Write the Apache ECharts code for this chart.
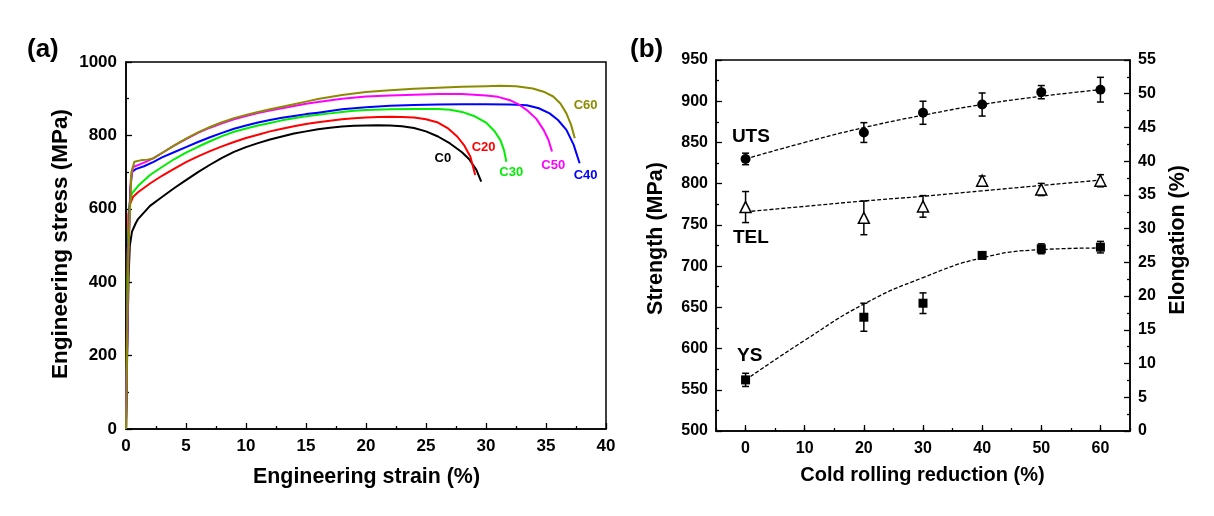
<!DOCTYPE html>
<html><head><meta charset="utf-8">
<script src="https://cdn.jsdelivr.net/npm/echarts@6/dist/echarts.min.js"></script>
<style>html,body{margin:0;padding:0;background:#fff}#c{width:1214px;height:516px}</style>
</head><body><div id="c"></div>
<script>
// ---------- Panel (a): engineering stress-strain curves ----------
const curveNames = ['C0','C20','C30','C40','C50','C60'];
const curveC0 = [[0,0],[0.12,250],[0.22,420],[0.32,500],[0.5,538],[0.8,560],[1,572],[2,608],[3,632],[4,656],[5,678],[6,700],[7,720],[8,739],[9,755],[10,768],[11,779],[12,789],[13,797],[14,805],[15,811],[16,817],[17,821],[18,824],[19,826],[20,827],[21,827.5],[22,827],[23,825],[24,820],[25,811],[26,797],[27,778],[28,754],[28.6,735],[29.2,706],[29.6,674]];
const curveC20 = [[0,0],[0.12,400],[0.2,585],[0.3,610],[0.6,633],[1,645],[2,669],[3,690],[4,709],[5,727],[6,743],[7,757],[8,770],[9,782],[10,793],[11,802],[12,811],[13,818],[14,825],[15,831],[16,836],[17,840],[18,844],[19,847],[20,849],[21,850],[22,850.5],[23,850],[24,848.5],[25,844],[26,835],[26.8,820],[27.6,797],[28.2,772],[28.7,742],[29.1,692]];
const curveC30 = [[0,0],[0.15,480],[0.3,615],[0.5,642],[1,662],[2,692],[3,714],[4,735],[5,753],[6,769],[7,784],[8,798],[9,810],[10,819],[11,827],[12,834],[13,841],[14,847],[15,852],[16,856],[17,860],[18,864],[19,867],[20,869],[22,871],[24,872],[26,872],[27,870],[28,864],[29,853],[30,835],[30.7,812],[31.2,787],[31.5,760],[31.7,728]];
const curveC40 = [[0,0],[0.2,480],[0.35,650],[0.5,700],[0.8,708],[1.5,716],[2.3,728],[3,740],[4,754],[5,768],[6,782],[7,795],[8,807],[9,818],[10,827],[11,835],[12,842],[13,848],[14,853],[15,858],[16,862],[18,871],[20,877],[22,881],[24,883],[26,884],[28,885],[30,885],[32,884.5],[33.4,882],[34.4,874],[35.3,860],[36,842],[36.7,815],[37.3,775],[37.8,724]];
const curveC50 = [[0,0],[0.2,480],[0.4,680],[0.6,714],[1,719],[1.6,727],[2.3,738],[3,752],[4,772],[5,790],[6,807],[7,821],[8,833],[9,844],[10,853],[11,861],[12,868],[13,874],[14,880],[15,886],[16,891],[18,900],[20,906],[22,909],[24,911],[26,912.5],[27,913],[28,912.5],[29,911],[30,909],[31,905],[32,896],[32.8,883],[33.4,869],[34.2,845],[34.8,815],[35.2,788],[35.5,756]];
const curveC60 = [[0,0],[0.2,480],[0.45,700],[0.7,728],[1.2,732],[1.8,734],[2.3,738],[3,752],[4,772],[5,791],[6,808],[7,823],[8,836],[9,847],[10,856],[11,864],[12,871],[13,878],[14,885],[15,892],[16,899],[18,910],[20,918],[22,923],[24,927],[26,930],[28,932.5],[30,934],[31.2,935],[32.5,934],[33.9,928],[34.8,919],[35.6,906],[36.2,887],[36.7,860],[37.1,828],[37.4,792]];
const curveLabelAt = [[26.4,736],[29.8,768],[32.1,700],[38.3,692],[35.6,719],[38.3,883]];
const curveColors = ['#000000','#ff0000','#00ee00','#0000ff','#ff00ff','#8b8b00'];

// ---------- Panel (b): strength / elongation vs cold rolling ----------
const reduction = [0,20,30,40,50,60];
const utsMean = [830,862,886,896,911,914];
const utsErr  = [7,12,14,14,8,15];
const ysMean  = [562,638,655,713,721,723];
const ysErr   = [8,17,12.5,4,6,7];
const telMean = [33.2,31.6,33.3,37.1,35.8,37.1];
const telErr  = [2.3,2.5,1.6,0.7,0.9,0.9];
const fitX   = [0,10,20,30,40,50,60];
const utsFit = [830,850,868,883,896,906,914];
const ysFit  = [562,610,654,686,710,720,722];
const telFit = [32.5,33.3,34.1,34.8,35.6,36.4,37.2];
const reductionTicks = [0,10,20,30,40,50,60];
const propLabels = ['UTS','TEL','YS'];
const propLabelAt = [[0.9,857],[0.9,734],[0.7,591]];

const FF = '"Liberation Sans", Arial, sans-serif';
const pair = (xs, ys) => xs.map((x,i)=>[x,ys[i]]);
const triple = (xs, ys, es) => xs.map((x,i)=>[x,ys[i],es[i]]);

function errBar(params, api){
  const x = api.value(0), y = api.value(1), e = api.value(2);
  const t = api.coord([x, y+e]), b = api.coord([x, y-e]);
  const w = 3.5;
  const st = {stroke:'#000', lineWidth:1.5};
  return {type:'group', children:[
    {type:'line', shape:{x1:t[0],y1:t[1],x2:b[0],y2:b[1]}, style:st},
    {type:'line', shape:{x1:t[0]-w,y1:t[1],x2:t[0]+w,y2:t[1]}, style:st},
    {type:'line', shape:{x1:b[0]-w,y1:b[1],x2:b[0]+w,y2:b[1]}, style:st}
  ]};
}

const axisTxt = {color:'#000', fontWeight:'bold', fontFamily:FF};
const lineSt = {show:true, onZero:false, lineStyle:{color:'#000', width:1.5}};
const curves = [curveC0,curveC20,curveC30,curveC40,curveC50,curveC60];
const plain = v => String(v);

const series = [];
curves.forEach((d,i)=>{
  series.push({type:'line', name:curveNames[i], xAxisIndex:0, yAxisIndex:0, data:d, showSymbol:false, smooth:false,
    lineStyle:{color:curveColors[i], width:2, join:'round'}, z:3, silent:true});
});
series.push({type:'scatter', xAxisIndex:0, yAxisIndex:0, symbolSize:0, itemStyle:{opacity:1},
  data: curveLabelAt.map((p,i)=>({value:p, label:{show:true, formatter:curveNames[i], color:curveColors[i], position:'inside',
    fontSize:13, fontWeight:'bold', fontFamily:FF}}))});

// panel b fits
const dash = {color:'#000',width:1.3,type:[4,2]};
series.push({type:'line', xAxisIndex:1, yAxisIndex:1, data:pair(fitX,utsFit), smooth:true, showSymbol:false, lineStyle:dash});
series.push({type:'line', xAxisIndex:1, yAxisIndex:1, data:pair(fitX,ysFit), smooth:true, showSymbol:false, lineStyle:dash});
series.push({type:'line', xAxisIndex:1, yAxisIndex:2, data:pair(fitX,telFit), smooth:true, showSymbol:false, lineStyle:dash});
// error bars
series.push({type:'custom', xAxisIndex:1, yAxisIndex:1, data:triple(reduction,utsMean,utsErr), renderItem:errBar, z:4});
series.push({type:'custom', xAxisIndex:1, yAxisIndex:1, data:triple(reduction,ysMean,ysErr), renderItem:errBar, z:4});
series.push({type:'custom', xAxisIndex:1, yAxisIndex:2, data:triple(reduction,telMean,telErr), renderItem:errBar, z:4});
// markers
series.push({type:'scatter', xAxisIndex:1, yAxisIndex:1, data:pair(reduction,utsMean), symbol:'circle', symbolSize:10, itemStyle:{color:'#000', opacity:1}, z:5});
series.push({type:'scatter', xAxisIndex:1, yAxisIndex:1, data:pair(reduction,ysMean), symbol:'rect', symbolSize:9, itemStyle:{color:'#000', opacity:1}, z:5});
series.push({type:'scatter', xAxisIndex:1, yAxisIndex:2, data:pair(reduction,telMean), symbol:'triangle', symbolSize:11, itemStyle:{color:'#fff', borderColor:'#000', borderWidth:1.5, opacity:1}, z:5});
series.push({type:'scatter', xAxisIndex:1, yAxisIndex:1, symbolSize:0, itemStyle:{opacity:1},
  data: propLabelAt.map((p,i)=>({value:p, label:{show:true, formatter:propLabels[i], color:'#000', position:'inside',
    fontSize:19, fontWeight:'bold', fontFamily:FF}}))});

const tickSt = {color:'#000', width:1.3};
function title(text, x, y, size, rot){
  return {type:'text', x:x, y:y, rotation:rot?Math.PI/2:0,
    style:{text:text, fontSize:size, fontWeight:'bold', fontFamily:FF, fill:'#000', align:'center', verticalAlign:'middle'}};
}
const option = {
  animation:false,
  backgroundColor:'#fff',
  grid:[
    {left:126, top:62, width:480, height:367, show:true, borderColor:'#000', borderWidth:1.5, containLabel:false},
    {left:716, top:60, width:414, height:371, show:true, borderColor:'#000', borderWidth:1.5, containLabel:false}
  ],
  xAxis:[
    {gridIndex:0, type:'value', min:0, max:40, interval:5, position:'bottom', axisLine:lineSt,
     axisTick:{show:true, inside:true, length:6, lineStyle:tickSt},
     minorTick:{show:true, splitNumber:2, length:3, lineStyle:tickSt},
     splitLine:{show:false},
     axisLabel:Object.assign({fontSize:17, margin:9, formatter:plain}, axisTxt)},
    {gridIndex:1, type:'value', min:-5, max:65, position:'bottom', axisLine:lineSt,
     axisTick:{show:true, inside:true, length:6, customValues:reductionTicks, lineStyle:tickSt},
     axisLabel:Object.assign({fontSize:16, margin:10, customValues:reductionTicks, formatter:plain}, axisTxt),
     splitLine:{show:false}},
    {gridIndex:1, type:'value', min:-5, max:65, interval:5, position:'bottom', axisLine:{show:false, onZero:false},
     axisTick:{show:true, inside:true, length:3, lineStyle:tickSt},
     axisLabel:{show:false}, splitLine:{show:false}}
  ],
  yAxis:[
    {gridIndex:0, type:'value', min:0, max:1000, interval:200, position:'left', axisLine:lineSt,
     axisTick:{show:true, inside:true, length:6, lineStyle:tickSt},
     minorTick:{show:true, splitNumber:2, length:3, lineStyle:tickSt},
     splitLine:{show:false},
     axisLabel:Object.assign({fontSize:17, margin:9, formatter:plain}, axisTxt)},
    {gridIndex:1, type:'value', min:500, max:950, interval:50, position:'left', axisLine:lineSt,
     axisTick:{show:true, inside:true, length:6, lineStyle:tickSt},
     minorTick:{show:true, splitNumber:2, length:3, lineStyle:tickSt},
     splitLine:{show:false},
     axisLabel:Object.assign({fontSize:16, margin:8, formatter:plain}, axisTxt)},
    {gridIndex:1, type:'value', min:0, max:55, interval:5, position:'right', axisLine:lineSt,
     axisTick:{show:true, inside:true, length:6, lineStyle:tickSt},
     minorTick:{show:true, splitNumber:2, length:3, lineStyle:tickSt},
     splitLine:{show:false},
     axisLabel:Object.assign({fontSize:16, margin:8, formatter:plain}, axisTxt)}
  ],
  graphic:[
    {type:'text', left:27, top:37, style:{text:'(a)', fontSize:26, fontWeight:'bold', fontFamily:FF, fill:'#000'}},
    {type:'text', left:630, top:37, style:{text:'(b)', fontSize:26, fontWeight:'bold', fontFamily:FF, fill:'#000'}},
    title('Engineering strain (%)', 366.5, 477, 21.4, false),
    title('Engineering stress (MPa)', 61, 244, 22.5, true),
    title('Cold rolling reduction (%)', 922.5, 475, 20, false),
    title('Strength (MPa)', 656.5, 238.5, 21.5, true),
    title('Elongation (%)', 1178.5, 240, 21.4, true)
  ],
  series:series
};
const chart = echarts.init(document.getElementById('c'), null, {renderer:'canvas'});
chart.setOption(option);
</script></body></html>
